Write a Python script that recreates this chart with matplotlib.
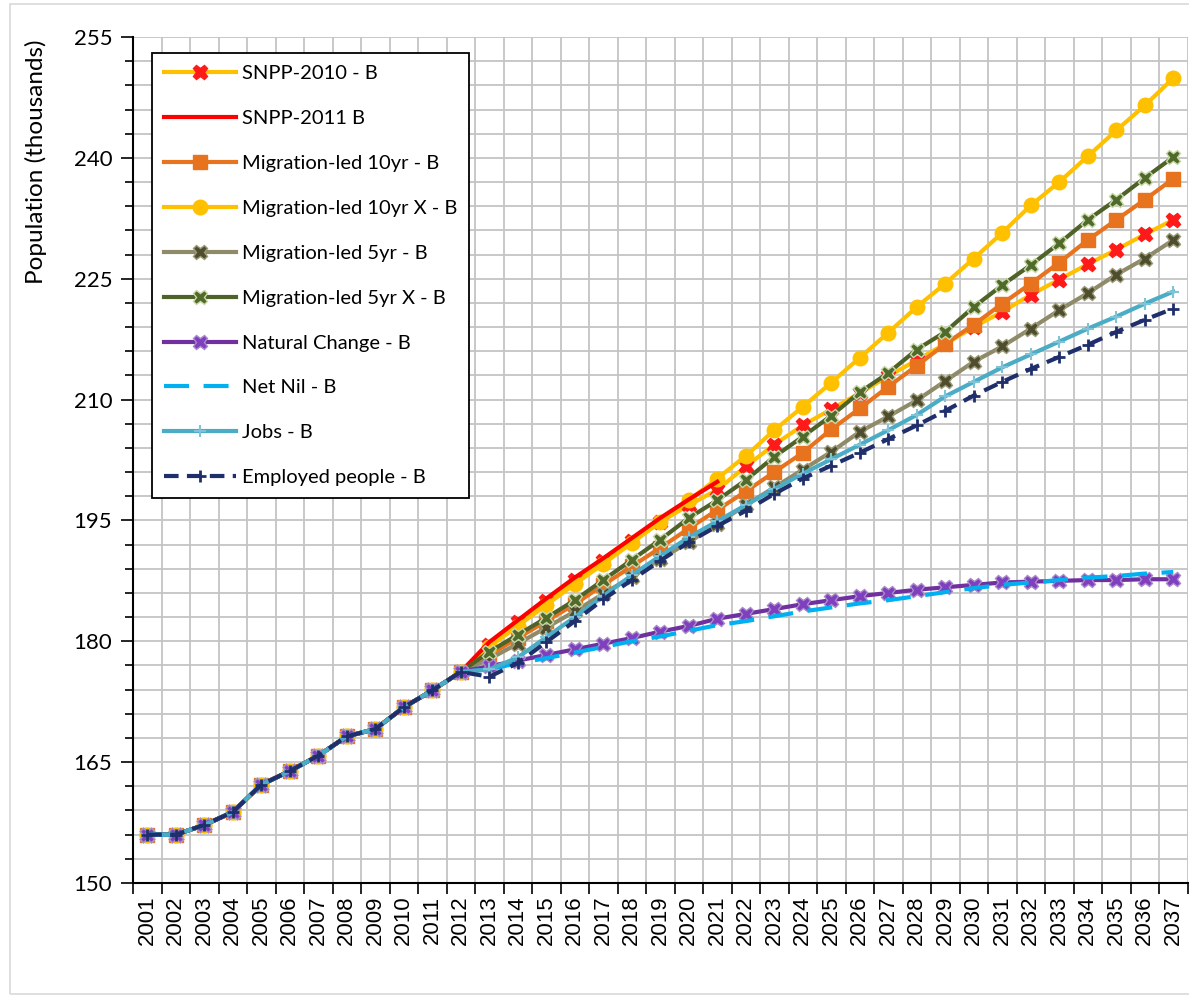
import numpy as np
import matplotlib
matplotlib.use("Agg")
import matplotlib.pyplot as plt
from matplotlib.ticker import MultipleLocator, FixedLocator
from matplotlib.patches import Rectangle

years = list(range(2001, 2038))

# shared history 2001-2012
history = [156.0, 156.0, 157.2, 158.8, 162.2, 163.9, 165.8, 168.2, 169.1, 171.8, 173.9, 176.2]

# projections 2013-2037
snpp_2010 = [179.6, 182.4, 185.0, 187.6, 190.0, 192.4, 194.8, 196.9, 198.8, 201.7, 204.4, 206.8, 208.8,
             210.8, 212.9, 214.9, 216.9, 219.0, 220.9, 223.0, 224.9, 226.8, 228.6, 230.5, 232.3]
snpp_2011 = [179.9, 182.6, 185.3, 187.9, 190.3, 192.8, 195.3, 197.6, 199.8]  # ends 2021
mig_10yr = [178.3, 180.4, 182.5, 184.6, 187.0, 189.3, 191.6, 194.0, 196.3, 198.6, 201.0, 203.4, 206.3,
            208.9, 211.6, 214.2, 216.9, 219.3, 221.9, 224.4, 227.0, 229.8, 232.3, 234.8, 237.4]
mig_10yr_x = [179.3, 181.9, 184.5, 187.1, 189.6, 192.2, 194.8, 197.5, 200.2, 203.0, 206.2, 209.1, 212.1,
              215.2, 218.3, 221.5, 224.4, 227.5, 230.7, 234.1, 237.0, 240.2, 243.4, 246.5, 249.9]
mig_5yr = [177.8, 179.7, 181.7, 183.7, 185.9, 188.0, 190.2, 192.3, 194.6, 196.9, 199.1, 201.3, 203.5,
           206.0, 207.9, 209.9, 212.3, 214.7, 216.6, 218.8, 221.1, 223.2, 225.5, 227.5, 229.8]
mig_5yr_x = [178.7, 180.8, 182.9, 185.1, 187.6, 190.1, 192.6, 195.3, 197.5, 200.0, 202.9, 205.4, 208.0,
             210.9, 213.3, 216.2, 218.4, 221.5, 224.2, 226.7, 229.4, 232.3, 234.8, 237.5, 240.1]
natural = [176.9, 177.6, 178.3, 179.0, 179.7, 180.4, 181.2, 181.9, 182.8, 183.4, 184.0, 184.6, 185.1,
           185.6, 186.0, 186.4, 186.7, 187.0, 187.3, 187.4, 187.5, 187.6, 187.6, 187.7, 187.7]
net_nil = [176.5, 177.3, 177.9, 178.6, 179.3, 180.0, 180.6, 181.3, 182.0, 182.5, 183.1, 183.7, 184.2,
           184.7, 185.1, 185.6, 186.1, 186.6, 187.0, 187.3, 187.6, 187.9, 188.1, 188.4, 188.6]
jobs = [176.5, 178.0, 180.5, 183.0, 185.6, 188.2, 190.6, 192.9, 194.9, 196.9, 198.9, 200.8, 202.6,
        204.4, 206.2, 208.1, 210.4, 212.2, 214.0, 215.6, 217.2, 218.8, 220.3, 221.9, 223.4]
employed = [175.6, 177.3, 179.9, 182.5, 185.2, 187.6, 190.0, 192.3, 194.3, 196.2, 198.3, 200.2, 201.8,
            203.4, 205.1, 206.8, 208.6, 210.5, 212.2, 213.8, 215.3, 216.8, 218.4, 219.9, 221.3]


def full(proj):
    vals = history + proj
    vals = vals + [np.nan] * (len(years) - len(vals))
    return np.array(vals, dtype=float)


x = np.arange(len(years))

fig = plt.figure(figsize=(11.89, 9.98), dpi=100)
ax = fig.add_axes([133 / 1189, 1 - 883 / 998, (1187.5 - 133) / 1189, (883 - 37) / 998])

lw = 3
ms = 10.5
h = {}
h['a'], = ax.plot(x, full(snpp_2010), color='#FFC000', lw=lw, marker='X', ms=ms, mfc='#FF1A1A',
                  mec='#FF1A1A', label='SNPP-2010 - B')
h['c'], = ax.plot(x, full(mig_10yr), color='#E8731E', lw=lw, marker='s', ms=ms - 0.5, mfc='#E8731E',
                  mec='#E8731E', label='Migration-led 10yr - B')
h['d'], = ax.plot(x, full(mig_10yr_x), color='#FFC000', lw=lw, marker='o', ms=ms, mfc='#FFC000',
                  mec='#FFC000', label='Migration-led 10yr X - B')
# red drawn above the yellow lines but below the rest
h['b'], = ax.plot(x, full(snpp_2011), color='#FF0000', lw=lw, label='SNPP-2011 B')
h['e'], = ax.plot(x, full(mig_5yr), color='#8F8B68', lw=lw, marker='X', ms=ms, mfc='#4E4E2E',
                  mec='#9C9A78', label='Migration-led 5yr - B')
h['f'], = ax.plot(x, full(mig_5yr_x), color='#4F6228', lw=lw, marker='X', ms=ms, mfc='#4F6A2A',
                  mec='#C9D8A8', label='Migration-led 5yr X - B')
h['g'], = ax.plot(x, full(natural), color='#7030A0', lw=lw, marker='X', ms=ms, mfc='#7F3FBF',
                  mec='#A88BC8', label='Natural Change - B')
h['h'], = ax.plot(x, full(net_nil), color='#00B0F0', lw=lw, dashes=(6, 3.5), label='Net Nil - B')
h['i'], = ax.plot(x, full(jobs), color='#4BACC6', lw=lw, marker='+', ms=8, mew=1.5, mec='#7FC4D6',
                  label='Jobs - B')
h['j'], = ax.plot(x, full(employed), color='#1F2F6B', lw=lw, dashes=(3.5, 2), marker='+', ms=8, mew=2,
                  mec='#1F2F6B', label='Employed people - B')

ax.set_xlim(-0.5, len(years) - 0.5)
ax.set_ylim(150, 255)

ax.yaxis.set_major_locator(MultipleLocator(15))
ax.yaxis.set_minor_locator(MultipleLocator(3))
ax.xaxis.set_major_locator(FixedLocator(x))
ax.xaxis.set_minor_locator(FixedLocator(np.arange(len(years) + 1) - 0.5))
ax.set_xticklabels([str(y) for y in years], rotation=90, fontsize=16, family='Liberation Sans')

ax.tick_params(axis='x', which='major', length=0, pad=9)
ax.tick_params(axis='x', which='minor', length=8, width=1.2, color='black')
ax.tick_params(axis='y', which='major', length=9, width=1.2, labelsize=16, pad=6)
ax.tick_params(axis='y', which='minor', length=6, width=1.2)
for lbl in ax.get_yticklabels():
    lbl.set_family('Lato')

ax.grid(False, which='major', axis='x')
ax.grid(True, which='minor', axis='x', color='#C4C4C4', lw=1.3)
ax.grid(True, which='both', axis='y', color='#C4C4C4', lw=1.3)
ax.set_axisbelow(True)

for s in ['top', 'right']:
    ax.spines[s].set_visible(False)
for s in ['left', 'bottom']:
    ax.spines[s].set_linewidth(1.5)
    ax.spines[s].set_color('black')

ax.set_ylabel('Population (thousands)', fontsize=17.5, family='Lato')
ax.yaxis.set_label_coords(-0.0816, 0.852)

order = ['a', 'b', 'c', 'd', 'e', 'f', 'g', 'h', 'i', 'j']
leg = ax.legend([h[k] for k in order], [h[k].get_label() for k in order],
                loc='upper left', bbox_to_anchor=(0.018, 0.981), borderaxespad=0,
                prop={'family': 'Lato', 'size': 14.5}, labelspacing=1.38, handlelength=3.55,
                handletextpad=0.3, borderpad=0.6, fancybox=False, framealpha=1, edgecolor='black')
leg.get_frame().set_linewidth(1.3)

fig.patches.append(Rectangle((10 / 1189, 4 / 998), 1, 990 / 998, transform=fig.transFigure,
                             fill=False, edgecolor='#D9D9D9', lw=1.2))

fig.savefig('out.png', dpi=100)
